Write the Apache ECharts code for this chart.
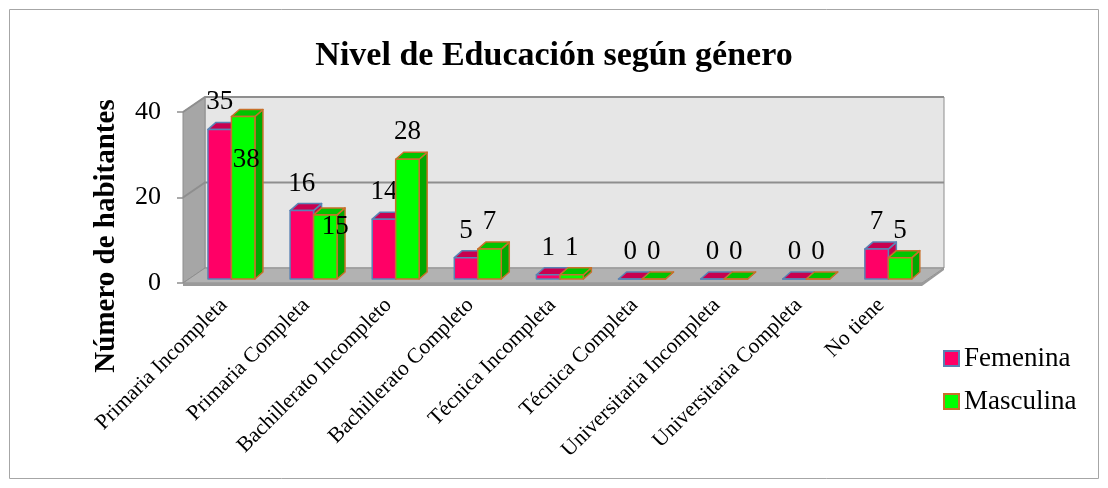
<!DOCTYPE html>
<html>
<head>
<meta charset="utf-8">
<script src="https://cdn.jsdelivr.net/npm/echarts@6/dist/echarts.min.js"></script>
<style>
html,body{margin:0;padding:0;background:#fff;}
#chart{width:1108px;height:488px;}
</style>
</head>
<body>
<div id="chart"></div>
<script>
const categories = ['Primaria Incompleta', 'Primaria Completa', 'Bachillerato Incompleto', 'Bachillerato Completo', 'Técnica Incompleta', 'Técnica Completa', 'Universitaria Incompleta', 'Universitaria Completa', 'No tiene'];
const femenina = [35, 16, 14, 5, 1, 0, 0, 0, 7];
const masculina = [38, 15, 28, 7, 1, 0, 0, 0, 5];
const yTicks = [0, 20, 40];
const seriesNames = ['Femenina', 'Masculina'];

const FONT = "'Liberation Serif', 'Times New Roman', serif";
// 3D look (pixels)
const DEPTH = [22, -15];      // wall depth
const BAR_SHIFT = [7.4, -4];  // bars sit inside the depth
const BAR_DEPTH = [8, -7];
const BAR_FRAC = 0.286;
const LABEL_UP = 27;
const labelNudge = { 'Masculina': { 0: [3, 70], 1: [10, 39] } };

const styles = {
  'Femenina': { front: '#FF0066', top: '#C8004F', side: '#C4004D', border: '#5A82B4' },
  'Masculina': { front: '#00FF00', top: '#00C400', side: '#00A800', border: '#C8702A' }
};

function wallsRender(params, api) {
  const cs = params.coordSys;
  const x0 = cs.x, x1 = cs.x + cs.width;
  const yb = api.coord([0, yTicks[0]])[1];
  const yt = api.coord([0, yTicks[yTicks.length - 1]])[1];
  const dx = DEPTH[0], dy = DEPTH[1];
  const edge = '#8E8E8E';
  const children = [];
  children.push({ type: 'polygon', shape: { points: [[x0 + dx, yt + dy], [x1 + dx, yt + dy], [x1 + dx, yb + dy], [x0 + dx, yb + dy]] },
    style: { fill: '#E6E6E6', stroke: edge, lineWidth: 1 } });
  children.push({ type: 'polygon', shape: { points: [[x0, yt], [x0 + dx, yt + dy], [x0 + dx, yb + dy], [x0, yb]] },
    style: { fill: '#A6A6A6', stroke: edge, lineWidth: 1 } });
  children.push({ type: 'polygon', shape: { points: [[x0, yb], [x0 + dx, yb + dy], [x1 + dx, yb + dy], [x1, yb]] },
    style: { fill: '#B2B2B2', stroke: edge, lineWidth: 1 } });
  children.push({ type: 'polygon', shape: { points: [[x0, yb], [x1, yb], [x1 + dx, yb + dy], [x1 + dx, yb + dy + 2], [x1, yb + 3], [x0, yb + 3]] },
    style: { fill: '#9A9A9A', stroke: null } });
  yTicks.forEach(function (t) {
    if (t === yTicks[0]) return;
    const y = api.coord([0, t])[1];
    children.push({ type: 'polyline', shape: { points: [[x0, y], [x0 + dx, y + dy], [x1 + dx, y + dy]] },
      style: { stroke: '#8E8E8E', lineWidth: 2, fill: null } });
  });
  return { type: 'group', children: children };
}

function barRender(name) {
  const st = styles[name];
  return function (params, api) {
    const idx = api.value(0), val = api.value(1);
    const base = api.coord([idx, 0]);
    const top = api.coord([idx, val]);
    const band = api.size([1, 0])[0];
    const w = band * BAR_FRAC;
    const cx = base[0] + BAR_SHIFT[0];
    const x = name === 'Femenina' ? cx - w : cx;
    const yB = base[1] + BAR_SHIFT[1];
    const yT = top[1] + BAR_SHIFT[1];
    const bx = BAR_DEPTH[0], by = BAR_DEPTH[1];
    const sw = { stroke: st.border, lineWidth: 1.5, lineJoin: 'round' };
    const children = [
      { type: 'polygon', shape: { points: [[x + w, yT], [x + w + bx, yT + by], [x + w + bx, yB + by], [x + w, yB]] },
        style: Object.assign({ fill: st.side }, sw) },
      { type: 'polygon', shape: { points: [[x, yT], [x + bx, yT + by], [x + w + bx, yT + by], [x + w, yT]] },
        style: Object.assign({ fill: st.top }, sw) },
      { type: 'rect', shape: { x: x, y: yT, width: w, height: Math.max(yB - yT, 0) },
        style: Object.assign({ fill: st.front }, sw) }
    ];
    const nud = (labelNudge[name] && labelNudge[name][params.dataIndex]) || [0, 0];
    children.push({ type: 'text', z2: 50,
      style: { text: String(val), x: x + w / 2 + nud[0], y: yT - LABEL_UP + nud[1], fill: '#000',
        fontSize: 27, fontFamily: FONT, align: 'center', verticalAlign: 'middle' } });
    return { type: 'group', children: children };
  };
}

const chart = echarts.init(document.getElementById('chart'), null, { renderer: 'canvas' });
chart.setOption({
  backgroundColor: '#fff',
  animation: false,
  title: {
    text: 'Nivel de Educación según género', left: 'center', top: 39, padding: 0,
    textStyle: { fontSize: 34, fontWeight: 'bold', fontFamily: FONT, color: '#000' }
  },
  legend: {
    data: seriesNames, orient: 'vertical', left: 943, top: 345, padding: 0,
    itemWidth: 15, itemHeight: 15, itemGap: 16, icon: 'rect',
    textStyle: { fontSize: 27, fontFamily: FONT, color: '#000' }
  },
  grid: { left: 183, top: 112, width: 739, bottom: 205, containLabel: false },
  xAxis: {
    type: 'category', data: categories,
    axisLine: { show: false }, axisTick: { show: false },
    axisLabel: { interval: 0, rotate: 45, margin: 19, fontSize: 21.5, fontFamily: FONT, color: '#000' }
  },
  yAxis: {
    type: 'value', min: 0, max: 40, interval: 20,
    axisLine: { show: false },
    axisTick: { show: true, length: 6, lineStyle: { color: '#8E8E8E', width: 1.5 } },
    splitLine: { show: false },
    axisLabel: { margin: 22, fontSize: 26, fontFamily: FONT, color: '#000' }
  },
  graphic: [
    { type: 'rect', silent: true, z: -10, shape: { x: 9.5, y: 9.5, width: 1089, height: 469 },
      style: { fill: 'none', stroke: '#A6A6A6', lineWidth: 1 } },
    { type: 'text', x: 107, y: 236, rotation: Math.PI / 2,
      style: { text: 'Número de habitantes', fontSize: 29, fontWeight: 'bold', fontFamily: FONT, fill: '#000', align: 'center', verticalAlign: 'middle' } }
  ],
  series: [
    { type: 'custom', name: '_walls', silent: true, z: 1, renderItem: wallsRender, data: [[0, 0]] },
    { type: 'custom', name: 'Femenina', z: 2, renderItem: barRender('Femenina'),
      itemStyle: { color: styles.Femenina.front, borderColor: styles.Femenina.border, borderWidth: 1.5 },
      data: femenina.map(function (v, i) { return [i, v]; }) },
    { type: 'custom', name: 'Masculina', z: 3, renderItem: barRender('Masculina'),
      itemStyle: { color: styles.Masculina.front, borderColor: styles.Masculina.border, borderWidth: 1.5 },
      data: masculina.map(function (v, i) { return [i, v]; }) }
  ]
});
</script>
</body>
</html>
